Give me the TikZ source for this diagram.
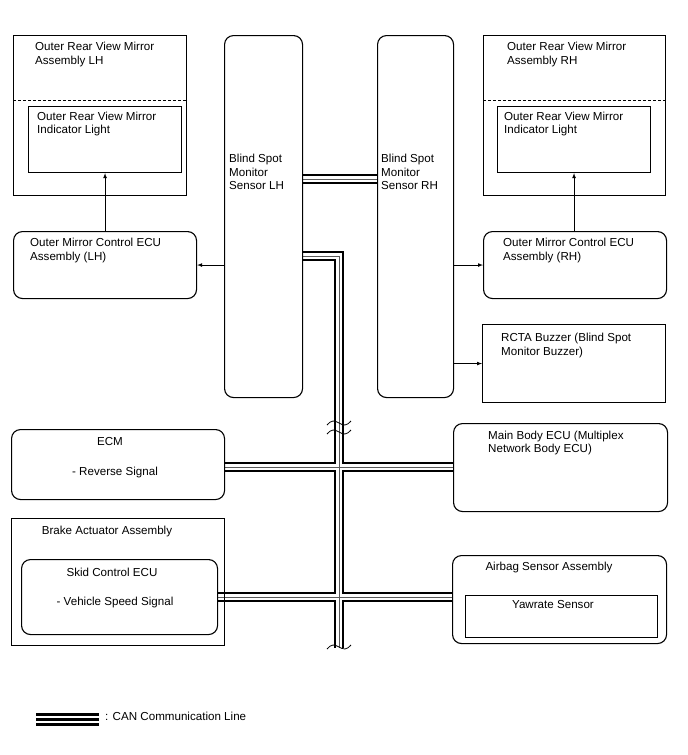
\documentclass[tikz,border=0pt]{standalone}
\usepackage{fontspec}
\setmainfont{Liberation Sans}
\usepackage{tikz}
\usetikzlibrary{backgrounds}
\usetikzlibrary{positioning}
\usetikzlibrary{%
  calc,%
  arrows%
}

\tikzset{
  box/.style={draw, line width=1.1pt, anchor=north west, inner sep=0pt},
  rbox/.style={box, rounded corners=9pt},
  txt/.style={anchor=north west, inner sep=0pt, align=left,
    font=\fontsize{11.6}{13.6}\selectfont},
  ctxt/.style={txt, anchor=north, align=center},
  can/.style={line width=10pt, black,
    postaction={draw, white, line width=5.4pt},
    postaction={draw, black!65, line width=0.9pt}},
  brk/.style={line width=0.8pt},
}

\begin{document}
\begin{tikzpicture}[x=1pt,y=-1pt]
\useasboundingbox (0,0) rectangle (688,755);

% left mirror side
\node[box, minimum width=173pt, minimum height=160pt] (mirL) at (13,35) {};
\node[box, minimum width=153pt, minimum height=66pt] (lightL) at (28,106) {};
\node[rbox, minimum width=183pt, minimum height=67pt] (ecuL) at (13,231) {};
\draw[dashed, line width=0.9pt, dash pattern=on 3pt off 2pt] (13,100) -- (186,100);
\node[txt] (mirLt) at (35,42) {Outer Rear View Mirror\\Assembly LH};
\node[txt] (lightLt) at (37,111.5) {Outer Rear View Mirror\\Indicator Light};
\node[txt] (ecuLt) at (30,238) {Outer Mirror Control ECU\\Assembly (LH)};

% sensors
\node[rbox, minimum width=78pt, minimum height=362pt] (bsmL) at (224,35) {};
\node[rbox, minimum width=76pt, minimum height=362pt] (bsmR) at (377,35) {};
\node[txt] (bsmLt) at (229,154) {Blind Spot\\Monitor\\Sensor LH};
\node[txt] (bsmRt) at (381,154) {Blind Spot\\Monitor\\Sensor RH};

% right mirror side
\node[box, minimum width=182pt, minimum height=160pt] (mirR) at (483,35) {};
\node[box, minimum width=153pt, minimum height=66pt] (lightR) at (497,106) {};
\node[rbox, minimum width=183pt, minimum height=67pt] (ecuR) at (483,231) {};
\node[box, minimum width=183pt, minimum height=78pt] (buzz) at (482,324) {};
\draw[dashed, line width=0.9pt, dash pattern=on 3pt off 2pt] (483,100) -- (665,100);
\node[txt] (mirRt) at (507,42) {Outer Rear View Mirror\\Assembly RH};
\node[txt] (lightRt) at (504,111.5) {Outer Rear View Mirror\\Indicator Light};
\node[txt] (ecuRt) at (503,238) {Outer Mirror Control ECU\\Assembly (RH)};
\node[txt] (buzzt) at (501,333) {RCTA Buzzer (Blind Spot\\Monitor Buzzer)};

% lower boxes
\node[rbox, minimum width=213pt, minimum height=70pt] (ecm) at (11,429) {};
\node[box, minimum width=213pt, minimum height=127pt] (brake) at (11,518) {};
\node[rbox, minimum width=196pt, minimum height=75pt] (skid) at (21,559) {};
\node[rbox, minimum width=214pt, minimum height=88pt] (main) at (453,423) {};
\node[rbox, minimum width=214pt, minimum height=88pt] (airbag) at (452,555) {};
\node[box, minimum width=192pt, minimum height=42pt] (yaw) at (465,595) {};
\node[ctxt] (ecmt) at (110,437.5) {ECM};
\node[ctxt] (ecms) at (115,466.5) {- Reverse Signal};
\node[ctxt] (braket) at (107,526) {Brake Actuator Assembly};
\node[ctxt] (skidt) at (112,567.5) {Skid Control ECU};
\node[ctxt] (skids) at (115,597) {- Vehicle Speed Signal};
\node[txt] (maint) at (488,430.5) {Main Body ECU (Multiplex\\Network Body ECU)};
\node[ctxt] (airbagt) at (549,562) {Airbag Sensor Assembly};
\node[ctxt] (yawt) at (553,600.5) {Yawrate Sensor};

% legend
\coordinate (legA) at (36,719.5);
\coordinate (legB) at (99,719.5);
\node[txt] (legt) at (105,711.5) {: CAN Communication Line};

% bus points
\coordinate (lnk) at (339,179);
\coordinate (j1) at (339,256);
\coordinate (xEcm) at (339,467);
\coordinate (xSkid) at (339,597);
\coordinate (busEnd) at (339,648);

\path [->, >=latex, line width=0.7pt]
  (ecuL.north) edge (lightL.south)
  (ecuR.north -| lightR.south) edge (lightR.south)
  (bsmL.west |- ecuL.west) edge (ecuL.east)
  (bsmR.east |- ecuR.west) edge (ecuR.west)
  (bsmR.east |- buzz.west) edge (buzz.west);

\begin{scope}[on background layer]
\draw[can] (bsmL.east |- lnk) -- (bsmR.west |- lnk);
\draw[can] (bsmL.east |- j1) -- (j1) -- (busEnd)
  (ecm.east |- xEcm) -- (main.west |- xEcm)
  (skid.east |- xSkid) -- (airbag.west |- xSkid);
\draw[line width=13pt, black, postaction={draw, white, line width=7.5pt},
  postaction={draw, black, line width=2.4pt}] (legA) -- (legB);
\end{scope}

% breaks on the bus
\draw[brk] (327,425) sin (333,421) cos (339,423) sin (345,425) cos (351,421);
\draw[brk] (327,434) sin (333,430) cos (339,432) sin (345,434) cos (351,430);
\draw[brk] (327,649) sin (333,645) cos (339,647) sin (345,649) cos (351,645);
\end{tikzpicture}
\end{document}
